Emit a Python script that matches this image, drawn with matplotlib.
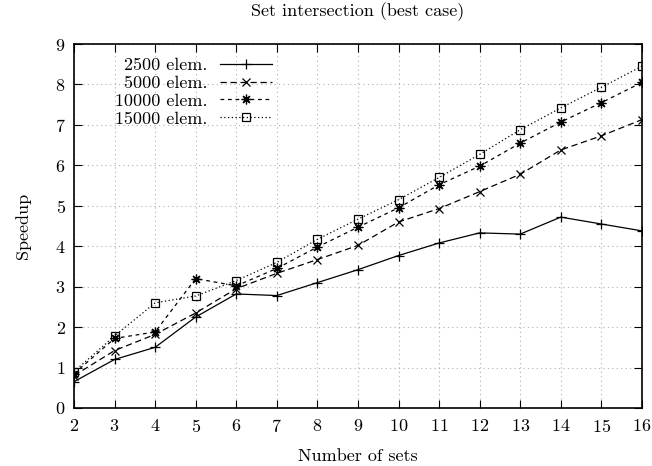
import matplotlib.pyplot as plt

plt.rcParams["font.family"] = "cmr10"
plt.rcParams["mathtext.fontset"] = "cm"
plt.rcParams["axes.formatter.use_mathtext"] = True

sets = [2, 3, 4, 5, 6, 7, 8, 9, 10, 11, 12, 13, 14, 15, 16]

speedup_2500 = [0.65, 1.2, 1.5, 2.25, 2.82, 2.78, 3.1, 3.42, 3.77, 4.08, 4.33, 4.3, 4.72, 4.55, 4.38]
speedup_5000 = [0.8, 1.42, 1.82, 2.35, 2.95, 3.33, 3.67, 4.02, 4.6, 4.93, 5.35, 5.78, 6.38, 6.73, 7.13]
speedup_10000 = [0.85, 1.72, 1.88, 3.2, 3.02, 3.45, 3.98, 4.47, 4.95, 5.52, 5.98, 6.55, 7.07, 7.55, 8.05]
speedup_15000 = [0.9, 1.78, 2.6, 2.77, 3.15, 3.6, 4.17, 4.67, 5.15, 5.7, 6.27, 6.88, 7.42, 7.93, 8.45]

labels = ["2500 elem.", "5000 elem.", "10000 elem.", "15000 elem."]

fig = plt.figure(figsize=(6.52, 4.66), dpi=100)
ax = fig.add_axes([0.1135, 0.1245, 0.871, 0.781])

ax.plot(sets, speedup_2500, color="black", lw=0.9, ls="-", marker="+", ms=7, mew=0.9, label=labels[0])
ax.plot(sets, speedup_5000, color="black", lw=0.9, ls=(0, (5, 3)), marker="x", ms=5.5, mew=0.9, label=labels[1])
ax.plot(sets, speedup_10000, color="black", lw=0.9, ls=(0, (3, 3)), marker=(8, 2, 0), ms=7, mew=0.9, label=labels[2])
ax.plot(sets, speedup_15000, color="black", lw=0.9, ls=(0, (1, 2)), marker="s", ms=5.5, mew=0.9,
        mfc="none", label=labels[3])

ax.set_xlim(2, 16)
ax.set_ylim(0, 9)
ax.set_xticks(sets)
ax.set_yticks(range(0, 10))
ax.grid(True, color="#b0b0b0", ls=(0, (1, 3)), lw=0.8)
ax.tick_params(direction="in", top=True, right=True, length=6, labelsize=13)
ax.tick_params(axis="x", pad=7)
ax.tick_params(axis="y", pad=6)
for s in ax.spines.values():
    s.set_linewidth(1.2)

ax.set_title("Set intersection (best case)", fontsize=13, pad=20)
ax.set_xlabel("Number of sets", fontsize=13, labelpad=10)
ax.set_ylabel("Speedup", fontsize=13, labelpad=17)

ax.legend(loc="upper right", frameon=False, markerfirst=False, handlelength=2.9, handletextpad=0.7,
          fontsize=13, labelspacing=0.12, borderaxespad=0, borderpad=0.3, bbox_to_anchor=(0.359, 0.978))

fig.savefig("out.png", dpi=100)
